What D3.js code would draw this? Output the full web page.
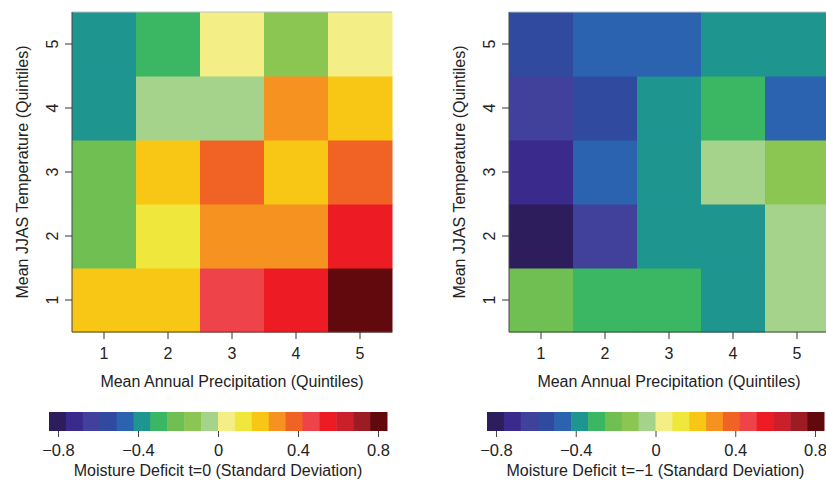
<!DOCTYPE html>
<html>
<head>
<meta charset="utf-8">
<script src="https://cdn.jsdelivr.net/npm/d3@7"></script>
<style>
  body { margin: 0; background: #fff; }
  text { font-family: "Liberation Sans", Arial, sans-serif; fill: #222; }
</style>
</head>
<body>
<div id="container"></div>
<script>
// quintile categories
var quintiles = [1, 2, 3, 4, 5];
// colour bins of the legend (20 bins)
var binColors = ['#2e1d5c', '#3a2a8c', '#41409a', '#2f4a9e', '#2b63b1', '#1f9590', '#3bb662',
    '#6fbf52', '#8bc653', '#a6d38c', '#f3ee85', '#efe73b', '#f8c614', '#f69220', '#f16325',
    '#ee4449', '#ed1c24', '#cc1f2c', '#9d1b22', '#62090e'];
var colorTicks = [-0.8, -0.4, 0, 0.4, 0.8];
var colorDomain = [-0.845, 0.845];

// rows = temperature quintile 1..5, columns = precipitation quintile 1..5
var deficitT0 = [
    [0.21, 0.21, 0.465, 0.549, 0.803],
    [-0.211, 0.127, 0.296, 0.296, 0.549],
    [-0.211, 0.211, 0.38, 0.211, 0.38],
    [-0.38, -0.042, -0.042, 0.296, 0.211],
    [-0.38, -0.296, 0.042, -0.127, 0.042]
];
var deficitT1 = [
    [-0.211, -0.296, -0.296, -0.38, -0.042],
    [-0.803, -0.634, -0.38, -0.38, -0.042],
    [-0.718, -0.465, -0.38, -0.042, -0.127],
    [-0.634, -0.549, -0.38, -0.296, -0.465],
    [-0.549, -0.465, -0.465, -0.38, -0.38]
];

var width = 826, height = 485;
var svg = d3.select('#container').append('svg')
    .attr('width', width)
    .attr('height', height);

var color = d3.scaleQuantize().domain(colorDomain).range(binColors);

function drawPanel(data, left, barLeft, barRight, title){
    var top = 12, size = 320;
    var g = svg.append('g').attr('transform', 'translate(' + left + ',' + top + ')');
    var x = d3.scaleBand().domain(quintiles).range([0, size]);
    var y = d3.scaleBand().domain(quintiles).range([size, 0]);
    var i, j;
    for(i = 0; i < data.length; i++){
        for(j = 0; j < data[i].length; j++){
            g.append('rect')
                .attr('x', x(quintiles[j]))
                .attr('y', y(quintiles[i]))
                .attr('width', x.bandwidth() + 0.5)
                .attr('height', y.bandwidth() + 0.5)
                .attr('fill', color(data[i][j]));
        }
    }
    g.append('line').attr('x1', 0).attr('x2', size).attr('y1', 0).attr('y2', 0)
        .attr('stroke', '#b8c4c8').attr('stroke-width', 1);
    g.append('line').attr('x1', 0).attr('x2', size).attr('y1', size).attr('y2', size)
        .attr('stroke', '#444').attr('stroke-width', 1);
    g.append('line').attr('x1', 0).attr('x2', 0).attr('y1', 0).attr('y2', size)
        .attr('stroke', '#444').attr('stroke-width', 1);

    // x ticks
    quintiles.forEach(function(q){
        var cx = x(q) + x.bandwidth()/2;
        g.append('line').attr('x1', cx).attr('x2', cx).attr('y1', size).attr('y2', size + 7)
            .attr('stroke', '#333');
        g.append('text').attr('x', cx).attr('y', size + 27)
            .attr('text-anchor', 'middle').attr('font-size', 16).text(q);
        var cy = y(q) + y.bandwidth()/2;
        g.append('line').attr('x1', -7).attr('x2', 0).attr('y1', cy).attr('y2', cy)
            .attr('stroke', '#333');
        g.append('text').attr('transform', 'translate(-14,' + cy + ') rotate(-90)')
            .attr('text-anchor', 'middle').attr('font-size', 16).text(q);
    });
    g.append('text').attr('x', size/2).attr('y', size + 55)
        .attr('text-anchor', 'middle').attr('font-size', 16)
        .text('Mean Annual Precipitation (Quintiles)');
    g.append('text').attr('transform', 'translate(' + (-44) + ',' + (size/2) + ') rotate(-90)')
        .attr('text-anchor', 'middle').attr('font-size', 16)
        .text('Mean JJAS Temperature (Quintiles)');

    // colour bar
    var barTop = 412, barH = 19;
    var bx = d3.scaleLinear().domain(colorDomain).range([barLeft, barRight]);
    var binW = (colorDomain[1] - colorDomain[0]) / binColors.length;
    binColors.forEach(function(c, k){
        var v0 = colorDomain[0] + k*binW;
        svg.append('rect')
            .attr('x', bx(v0))
            .attr('y', barTop)
            .attr('width', bx(v0 + binW) - bx(v0) + 0.5)
            .attr('height', barH)
            .attr('fill', c);
    });
    var axis = d3.axisBottom(bx).tickValues(colorTicks).tickSize(6).tickSizeOuter(0)
        .tickFormat(function(d){ return d == 0 ? '0' : d3.format('.1f')(d).replace('-', '\u2212'); });
    var ag = svg.append('g').attr('transform', 'translate(0,' + (barTop + barH) + ')').call(axis);
    ag.select('.domain').remove();
    ag.selectAll('line').attr('stroke', '#444');
    ag.selectAll('text').attr('font-size', 16.5).attr('dy', '0.95em').attr('fill', '#222')
        .attr('font-family', '"Liberation Sans", Arial, sans-serif');
    svg.append('text').attr('x', (barLeft + barRight)/2).attr('y', 476)
        .attr('text-anchor', 'middle').attr('font-size', 16)
        .text(title);
}

drawPanel(deficitT0, 72, 49, 387, 'Moisture Deficit t=0 (Standard Deviation)');
drawPanel(deficitT1, 509, 487, 824, 'Moisture Deficit t=\u22121 (Standard Deviation)');
</script>
</body>
</html>
